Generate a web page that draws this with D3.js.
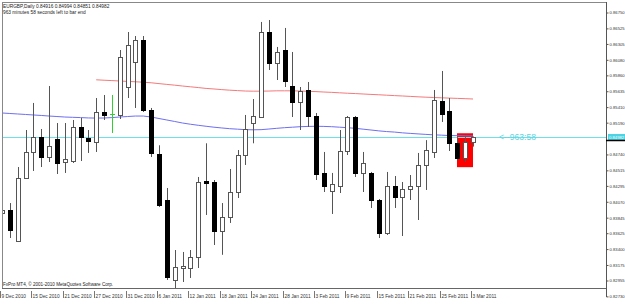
<!DOCTYPE html>
<html>
<head>
<meta charset="utf-8">
<script src="https://cdn.jsdelivr.net/npm/d3@7"></script>
<style>
body { margin: 0; background: #fff; }
svg text { font-family: "Liberation Sans", Arial, sans-serif; }
</style>
</head>
<body>
<div id="chart"></div>
<script>
// daily bars, EURGBP
const dates = ["9 Dec 2010","10 Dec 2010","13 Dec 2010","14 Dec 2010","15 Dec 2010","16 Dec 2010","17 Dec 2010","20 Dec 2010","21 Dec 2010","22 Dec 2010",
  "23 Dec 2010","24 Dec 2010","27 Dec 2010","28 Dec 2010","29 Dec 2010","30 Dec 2010","31 Dec 2010","3 Jan 2011","4 Jan 2011","5 Jan 2011",
  "6 Jan 2011","7 Jan 2011","10 Jan 2011","11 Jan 2011","12 Jan 2011","13 Jan 2011","14 Jan 2011","17 Jan 2011","18 Jan 2011","19 Jan 2011",
  "20 Jan 2011","21 Jan 2011","24 Jan 2011","25 Jan 2011","26 Jan 2011","27 Jan 2011","28 Jan 2011","31 Jan 2011","1 Feb 2011","2 Feb 2011",
  "3 Feb 2011","4 Feb 2011","7 Feb 2011","8 Feb 2011","9 Feb 2011","10 Feb 2011","11 Feb 2011","14 Feb 2011","15 Feb 2011","16 Feb 2011",
  "17 Feb 2011","18 Feb 2011","21 Feb 2011","22 Feb 2011","23 Feb 2011","24 Feb 2011","25 Feb 2011","28 Feb 2011","1 Mar 2011","2 Mar 2011",
  "3 Mar 2011"];
const opens = [0.83911,0.83953,0.83515,0.84407,0.84775,0.84985,0.84704,0.84957,0.84633,0.84647,
  0.85129,0.84971,0.84914,0.85341,0.85313,0.85299,0.85695,0.86049,0.86361,0.85371,
  0.84746,0.84095,0.82963,0.83132,0.83132,0.83288,0.84364,0.84350,0.83656,0.83854,
  0.84208,0.84732,0.85185,0.85270,0.86474,0.86035,0.86219,0.85709,0.85483,0.85653,
  0.85284,0.84478,0.84222,0.84293,0.84789,0.85270,0.84478,0.84478,0.84095,0.83628,
  0.84293,0.84138,0.84251,0.84293,0.84591,0.84775,0.85497,0.85357,0.84898,0.84690,
  0.84916];
const highs = [0.84138,0.84052,0.84562,0.85086,0.85469,0.85100,0.85709,0.85185,0.85185,0.85228,
  0.85256,0.85086,0.85539,0.85582,0.85582,0.86219,0.86474,0.86417,0.86417,0.85398,
  0.84870,0.84265,0.83387,0.83359,0.83387,0.84421,0.84898,0.84378,0.84052,0.84534,
  0.84803,0.85299,0.85525,0.86616,0.86644,0.86262,0.86531,0.86191,0.85695,0.85766,
  0.85327,0.84775,0.84478,0.85086,0.85284,0.85284,0.84775,0.84492,0.84109,0.84492,
  0.84435,0.84350,0.84449,0.84761,0.84943,0.85653,0.85922,0.85539,0.84985,0.84985,
  0.84994];
const lows = [0.83628,0.83557,0.83500,0.84400,0.84506,0.84562,0.84633,0.84463,0.84478,0.84619,
  0.84647,0.84761,0.84775,0.85228,0.85044,0.85242,0.85539,0.85398,0.85341,0.84704,
  0.83996,0.82963,0.82835,0.82934,0.82991,0.83132,0.83883,0.83458,0.83319,0.83770,
  0.84123,0.84591,0.84898,0.85260,0.85936,0.85794,0.85695,0.85270,0.85086,0.85129,
  0.84378,0.84208,0.83897,0.84194,0.84732,0.84421,0.84208,0.83982,0.83557,0.83600,
  0.83982,0.83585,0.84095,0.83812,0.84237,0.84690,0.85200,0.84789,0.84661,0.84633,
  0.84851];
const closes = [0.83953,0.83671,0.84407,0.84775,0.84985,0.84704,0.84856,0.84619,0.84676,0.85129,
  0.84985,0.84929,0.85341,0.85299,0.85313,0.86120,0.86290,0.86361,0.85371,0.84761,
  0.84024,0.83005,0.83146,0.83160,0.83288,0.84350,0.84336,0.83656,0.83854,0.84208,
  0.84732,0.85100,0.85284,0.86474,0.86035,0.86191,0.85780,0.85483,0.85638,0.85284,
  0.84463,0.84293,0.84322,0.84789,0.85270,0.84478,0.84619,0.84095,0.83628,0.84293,
  0.84138,0.84251,0.84293,0.84591,0.84803,0.85511,0.85313,0.84898,0.84690,0.84914,
  0.84982];
// moving averages (red one only drawn from 27 Dec on)
const maRed = [null,null,null,null,null,null,null,null,null,null,
  null,null,0.85797,0.85791,0.85786,0.85780,0.85774,0.85769,0.85763,0.85755,
  0.85743,0.85732,0.85721,0.85709,0.85698,0.85687,0.85675,0.85667,0.85658,0.85650,
  0.85644,0.85638,0.85636,0.85636,0.85638,0.85641,0.85641,0.85641,0.85638,0.85634,
  0.85630,0.85624,0.85619,0.85613,0.85607,0.85602,0.85596,0.85590,0.85585,0.85579,
  0.85573,0.85568,0.85562,0.85556,0.85551,0.85546,0.85542,0.85538,0.85534,0.85530,
  0.85525];
const maBlue = [0.85327,0.85320,0.85313,0.85306,0.85299,0.85292,0.85284,0.85277,0.85270,0.85266,
  0.85262,0.85257,0.85255,0.85256,0.85262,0.85270,0.85277,0.85284,0.85284,0.85270,
  0.85249,0.85228,0.85207,0.85185,0.85168,0.85153,0.85139,0.85126,0.85115,0.85105,
  0.85098,0.85091,0.85089,0.85091,0.85100,0.85110,0.85119,0.85126,0.85133,0.85137,
  0.85139,0.85137,0.85133,0.85126,0.85119,0.85110,0.85098,0.85086,0.85074,0.85064,
  0.85057,0.85046,0.85038,0.85031,0.85024,0.85018,0.85013,0.85008,0.85006,0.85003,
  0.85002];
const priceTicks = ["0.86750","0.86525","0.86305","0.86080","0.85860","0.85635","0.85410","0.85190",
  "0.84740","0.84515","0.84295","0.84070","0.83845","0.83625","0.83400","0.83175","0.82955","0.82730"];
const dateTicks = ["9 Dec 2010","15 Dec 2010","21 Dec 2010","27 Dec 2010","31 Dec 2010","6 Jan 2011","12 Jan 2011",
  "18 Jan 2011","24 Jan 2011","28 Jan 2011","3 Feb 2011","9 Feb 2011","15 Feb 2011","21 Feb 2011","25 Feb 2011","3 Mar 2011"];
const boxDates = ["1 Mar 2011", "3 Mar 2011"];
const boxPrices = [0.85040, 0.84560];
const symbol = "EURGBP,Daily";
const timerText = "963 minutes 58 seconds left to bar end";
const countdown = "<--963:58";
const copyright = "FxPro MT4, \u00a9 2001-2010 MetaQuotes Software Corp.";

const w = 625, h = 305;
const plotLeft = 2, plotRight = 606, plotTop = 2, plotBottom = 288;

const svg = d3.select("#chart").append("svg")
    .attr("width", w)
    .attr("height", h)
    .style("display", "block");

const x = d3.scalePoint().domain(dates).range([2, 473]);
const y = d3.scaleLinear().domain([0.82730, 0.86750]).range([296.4, 12.5]);
const px = d => Math.round(x(d));

const bars = dates.map((d, i) => ({date: d, o: opens[i], h: highs[i], l: lows[i], c: closes[i]}));
const last = bars[bars.length - 1];

svg.append("defs").append("clipPath").attr("id", "plot")
    .append("rect").attr("x", plotLeft).attr("y", plotTop)
    .attr("width", plotRight - plotLeft).attr("height", plotBottom - plotTop);

const plot = svg.append("g").attr("clip-path", "url(#plot)");

// red box behind the last bars
plot.append("rect")
    .attr("x", px(boxDates[0]))
    .attr("y", y(boxPrices[0]))
    .attr("width", px(boxDates[1]) - px(boxDates[0]))
    .attr("height", y(boxPrices[1]) - y(boxPrices[0]))
    .attr("fill", "#ff0000");

// current price line
plot.append("line")
    .attr("x1", plotLeft).attr("x2", plotRight)
    .attr("y1", Math.round(y(last.c)) + 0.5).attr("y2", Math.round(y(last.c)) + 0.5)
    .attr("stroke", "#6ee0ea").attr("stroke-width", 1);

const lineGen = vals => d3.line()
    .defined(d => d != null)
    .x((d, i) => x(dates[i]))
    .y(d => y(d))(vals);

plot.append("path").attr("d", lineGen(maRed))
    .attr("fill", "none").attr("stroke", "#f47a7a").attr("stroke-width", 1);
plot.append("path").attr("d", lineGen(maBlue))
    .attr("fill", "none").attr("stroke", "#6f6ff2").attr("stroke-width", 1);

// candles
const cg = plot.selectAll("g.bar").data(bars).enter().append("g").attr("class", "bar");
cg.append("line")
    .attr("x1", d => px(d.date) + 0.5).attr("x2", d => px(d.date) + 0.5)
    .attr("y1", d => y(d.h)).attr("y2", d => y(d.l))
    .attr("stroke", d => d.o === d.c ? "#33cc33" : "#555");
cg.filter(d => d.o !== d.c).append("rect")
    .attr("x", d => px(d.date) - 2 + 0.5)
    .attr("y", d => Math.round(y(Math.max(d.o, d.c))) + 0.5)
    .attr("width", 4)
    .attr("height", d => Math.max(1, Math.round(Math.abs(y(d.o) - y(d.c)))))
    .attr("fill", d => d.c > d.o ? "#fff" : "#000")
    .attr("stroke", d => d.c > d.o ? "#555" : "#000");
cg.filter(d => d.o === d.c).append("line")
    .attr("x1", d => px(d.date) - 2).attr("x2", d => px(d.date) + 3)
    .attr("y1", d => Math.round(y(d.o)) + 0.5).attr("y2", d => Math.round(y(d.o)) + 0.5)
    .attr("stroke", "#33cc33");

// countdown text
svg.append("text")
    .attr("x", 499).attr("y", y(last.c) + 3)
    .attr("font-size", 8.6)
    .attr("fill", "#5cd4e2")
    .text(countdown);

// frame
svg.append("line").attr("x1", plotLeft + 0.5).attr("x2", plotLeft + 0.5).attr("y1", plotTop).attr("y2", plotBottom)
    .attr("stroke", "#888");
svg.append("line").attr("x1", plotLeft).attr("x2", plotRight).attr("y1", plotTop + 0.5).attr("y2", plotTop + 0.5)
    .attr("stroke", "#888");
svg.append("line").attr("x1", plotLeft).attr("x2", plotRight).attr("y1", plotBottom + 0.5).attr("y2", plotBottom + 0.5)
    .attr("stroke", "#666");

// price axis on the right
const yAxis = d3.axisRight(y)
    .tickValues(priceTicks.map(Number))
    .tickFormat((d, i) => priceTicks[i])
    .tickSize(2)
    .tickPadding(1);
const ya = svg.append("g")
    .attr("transform", "translate(" + (plotRight + 0.5) + ",0)")
    .call(yAxis);
ya.select(".domain").attr("stroke", "#555").attr("d", "M0," + plotTop + "V" + 297);
ya.selectAll(".tick line").attr("stroke", "#555");
ya.selectAll("text").attr("font-size", 4.2).attr("fill", "#333").attr("font-family", "Liberation Sans, Arial");

// highlighted last price
const ly = Math.round(y(last.c));
svg.append("rect").attr("x", plotRight + 2).attr("y", ly - 3).attr("width", 17).attr("height", 6).attr("fill", "#4fd3e2");
svg.append("text").attr("x", plotRight + 3).attr("y", ly + 1.6).attr("font-size", 4.2).attr("fill", "#eaffff")
    .text(last.c.toFixed(5));
svg.append("line").attr("x1", plotRight).attr("x2", w).attr("y1", ly + 3.5).attr("y2", ly + 3.5)
    .attr("stroke", "#000").attr("stroke-width", 1.5);

// date axis
const dg = svg.selectAll("g.dtick").data(dateTicks).enter().append("g").attr("class", "dtick");
dg.append("line")
    .attr("x1", d => px(d) - 1.5).attr("x2", d => px(d) - 1.5)
    .attr("y1", 291).attr("y2", 298)
    .attr("stroke", "#777");
dg.append("text")
    .attr("x", d => px(d) - 0.5).attr("y", 297.5)
    .attr("font-size", 4.8).attr("fill", "#333")
    .text(d => d);

// header
svg.append("text").attr("x", 3).attr("y", 8).attr("font-size", 4.8).attr("fill", "#222")
    .text(symbol + "  " + [last.o, last.h, last.l, last.c].map(v => v.toFixed(5)).join(" "));
svg.append("text").attr("x", 3).attr("y", 14).attr("font-size", 4.8).attr("fill", "#222")
    .text(timerText);
svg.append("text").attr("x", 3).attr("y", 285.5).attr("font-size", 4.6).attr("fill", "#222")
    .text(copyright);
</script>
</body>
</html>
